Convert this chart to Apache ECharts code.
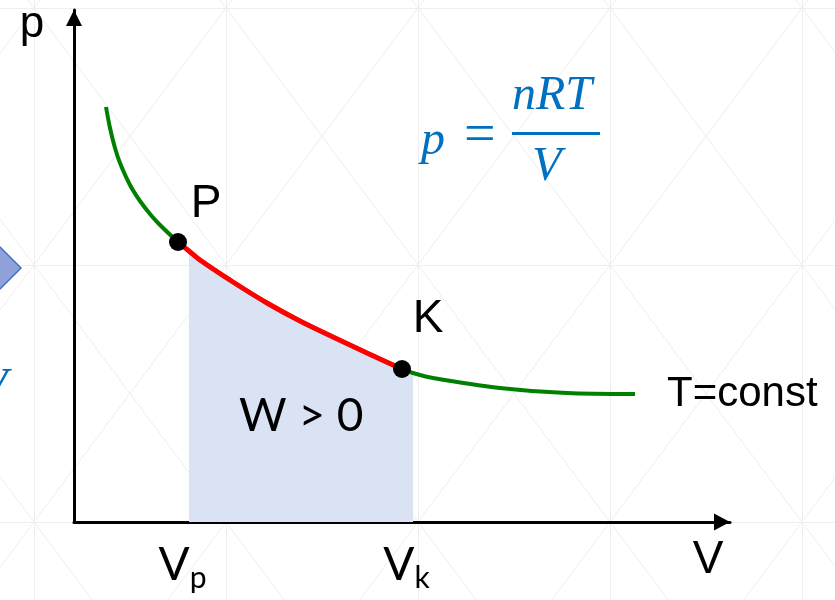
<!DOCTYPE html>
<html>
<head>
<meta charset="utf-8">
<script src="https://cdn.jsdelivr.net/npm/echarts@6/dist/echarts.min.js"></script>
<style>
  html, body { margin: 0; padding: 0; background: #fff; }
  #chart { width: 835px; height: 600px; }
</style>
</head>
<body>
<div id="chart"></div>
<script>
// isotherm samples (V, p in arbitrary units)
const volumes = [3.2, 3.6, 4.1, 4.6, 5.6, 6.6, 7.6, 8.6, 10.4, 11.5, 12.6, 15.9, 19.3, 22.6, 25.9, 29.3, 32.8, 33.9, 35.9, 42.6, 49.3, 56.1];
const pressures = [41.5, 39.4, 37.4, 35.9, 33.7, 32.1, 30.8, 29.7, 28.0, 27.1, 26.2, 24.0, 21.9, 20.1, 18.5, 16.9, 15.3, 14.9, 14.4, 13.4, 12.9, 12.8];
const stateNames = ["P", "K"];
const stateIndex = [8, 16];
const workRange = [9, 17]; // first and last sample of the shaded area
const tickSubs = ["p", "k"];
// faint slide background lattice, in cell units
const bgCols = [-1, 0, 1, 2, 3, 4, 5];
const bgRows = [-1, 0, 1, 2, 3];

const curve = volumes.map((v, i) => [v, pressures[i]]);
const redPart = curve.slice(stateIndex[0], stateIndex[1] + 1);
const workPart = curve.slice(workRange[0], workRange[1] + 1);
const states = stateIndex.map((idx, k) => ({ name: stateNames[k], value: curve[idx] }));
const tickValues = stateIndex.map((idx) => volumes[idx]);

const bgSegments = [];
bgCols.forEach((c) => bgSegments.push({ coords: [[c, bgRows[0]], [c, bgRows[bgRows.length - 1]]] }));
bgRows.forEach((r) => bgSegments.push({ coords: [[bgCols[0], r], [bgCols[bgCols.length - 1], r]] }));
for (let i = 0; i < bgCols.length - 1; i++) {
  for (let j = 0; j < bgRows.length - 1; j++) {
    bgSegments.push({ coords: [[bgCols[i], bgRows[j]], [bgCols[i + 1], bgRows[j + 1]]] });
    bgSegments.push({ coords: [[bgCols[i + 1], bgRows[j]], [bgCols[i], bgRows[j + 1]]] });
  }
}

const chart = echarts.init(document.getElementById("chart"), null, { renderer: "canvas" });

const blue = "#0070c0";
const serif = "Liberation Serif";
const arial = "Liberation Sans";

chart.setOption({
  animation: false,
  backgroundColor: "#fff",
  grid: [
    { left: 74, right: 105, top: 10, bottom: 78, outerBoundsMode: "none" },
    { left: 0, right: 0, top: 0, bottom: 0, outerBoundsMode: "none" },
  ],
  xAxis: [
    {
      gridIndex: 0,
      type: "value",
      min: 0,
      max: 65.6,
      name: "V",
      nameLocation: "end",
      nameGap: -22,
      nameTextStyle: {
        fontFamily: arial, fontSize: 46, color: "#000",
        align: "center", verticalAlign: "top", padding: [15, 0, 0, 0],
      },
      axisLine: {
        onZero: false,
        symbol: ["none", "triangle"],
        symbolSize: [17, 16],
        symbolOffset: [0, -8],
        lineStyle: { color: "#000", width: 3 },
      },
      axisTick: { show: false },
      splitLine: { show: false },
      axisLabel: {
        customValues: tickValues,
        margin: 20,
        padding: [0, 0, 0, 9],
        formatter: (val) => {
          const k = tickValues.indexOf(val);
          return "{v|V}{s|" + (tickSubs[k] || "") + "}";
        },
        rich: {
          v: { fontFamily: "Lato", fontSize: 46, lineHeight: 46, color: "#000" },
          s: { fontFamily: "Lato", fontSize: 30, lineHeight: 30, color: "#000", padding: [26, 0, 0, 0] },
        },
      },
    },
    { gridIndex: 1, type: "value", min: -0.177, max: 4.172, show: false },
  ],
  yAxis: [
    {
      gridIndex: 0,
      type: "value",
      min: 0,
      max: 51.2,
      name: "p",
      nameLocation: "end",
      nameGap: -37,
      nameTextStyle: {
        fontFamily: arial, fontSize: 44, color: "#000",
        align: "center", verticalAlign: "bottom", padding: [0, 84, 0, 0],
      },
      axisLine: {
        onZero: false,
        symbol: ["none", "triangle"],
        symbolSize: [16, 16],
        symbolOffset: [0, -8],
        lineStyle: { color: "#000", width: 3 },
      },
      axisTick: { show: false },
      axisLabel: { show: false },
      splitLine: { show: false },
    },
    { gridIndex: 1, type: "value", min: -0.031, max: 2.304, inverse: true, show: false },
  ],
  series: [
    {
      name: "bg",
      type: "lines",
      xAxisIndex: 1,
      yAxisIndex: 1,
      coordinateSystem: "cartesian2d",
      silent: true,
      z: 0,
      lineStyle: { color: "#eeeeee", width: 1, opacity: 1 },
      data: bgSegments,
    },
    {
      name: "work",
      type: "line",
      data: workPart,
      smooth: 0.3,
      showSymbol: false,
      lineStyle: { width: 0 },
      areaStyle: { color: "#dae3f3", opacity: 1 },
      z: 1,
      silent: true,
    },
    {
      name: "isotherm",
      type: "line",
      data: curve,
      smooth: 0.3,
      showSymbol: false,
      lineStyle: { color: "#008000", width: 4 },
      endLabel: {
        show: true,
        formatter: "T=const",
        distance: 32,
        fontFamily: arial,
        fontSize: 42,
        color: "#000",
      },
      z: 3,
    },
    {
      name: "process",
      type: "line",
      data: redPart,
      smooth: 0.3,
      showSymbol: false,
      lineStyle: { color: "#ff0000", width: 5 },
      z: 4,
    },
    {
      name: "states",
      type: "scatter",
      data: states,
      symbolSize: 18,
      itemStyle: { color: "#000", opacity: 1 },
      z: 5,
      label: {
        show: true,
        position: "inside",
        formatter: "{b}",
        fontFamily: arial,
        fontSize: 46,
        color: "#000",
        opacity: 1,
      },
      labelLayout: (p) => (p.dataIndex === 0 ? { dx: 28, dy: -38 } : { dx: 26, dy: -50 }),
    },
  ],
  graphic: [
    // formula p = nRT / V
    { type: "text", left: 421, top: 117, z: 10,
      style: { text: "p", font: "italic 48px " + serif, fill: blue } },
    { type: "text", left: 464, top: 109, z: 10,
      style: { text: "=", font: "56px " + serif, fill: blue } },
    { type: "text", left: 512, top: 72, z: 10,
      style: { text: "nRT", font: "italic 48px " + serif, fill: blue } },
    { type: "rect", left: 512, top: 132, z: 10,
      shape: { width: 88, height: 3 }, style: { fill: blue } },
    { type: "text", left: 532, top: 143, z: 10,
      style: { text: "V", font: "italic 48px " + serif, fill: blue } },
    // work label
    { type: "text", left: 239, top: 393, z: 10,
      style: { text: "W > 0", font: "46px Lato", fill: "#000" } },
    // cut-off slide pieces at the left edge
    { type: "polygon", z: 10,
      shape: { points: [[-12, 235], [21, 268], [-12, 301]] },
      style: { fill: "#8fa2d9", stroke: "#4472c4", lineWidth: 1.5 } },
    { type: "text", left: -22, top: 364, z: 10,
      style: { text: "V", font: "italic 48px " + serif, fill: blue } },
  ],
});

window.addEventListener("resize", () => chart.resize());
</script>
</body>
</html>
